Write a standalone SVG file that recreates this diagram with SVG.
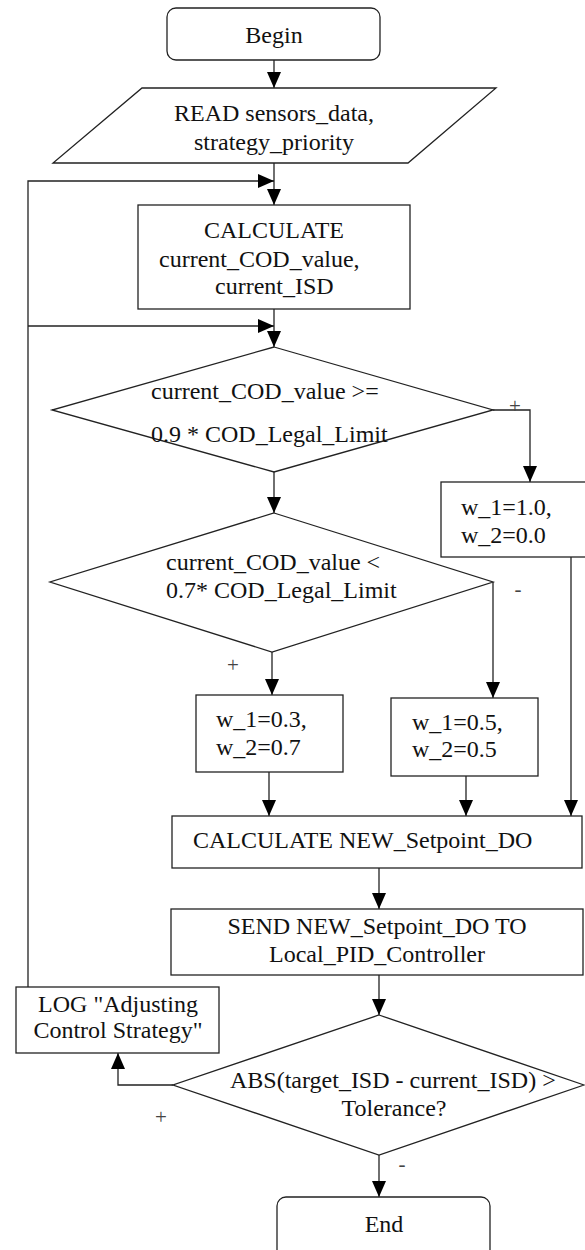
<svg xmlns="http://www.w3.org/2000/svg" width="585" height="1250" viewBox="0 0 585 1250">
<style>
.n{fill:#fff;stroke:#222;stroke-width:1.3}
.t{font-family:"Liberation Serif","Times New Roman",serif;font-size:24px;fill:#111}
.c{text-anchor:middle}
.l{font-family:"Liberation Serif","Times New Roman",serif;font-size:21px;fill:#444;text-anchor:middle}
.e{fill:none;stroke:#222;stroke-width:1.3}
</style>
<defs>
<marker id="ah" markerUnits="userSpaceOnUse" markerWidth="16" markerHeight="14" refX="16" refY="7" orient="auto"><path d="M0,0 L16,7 L0,14 z" fill="#000"/></marker>
</defs>
<g id="connectors">
<path class="e" d="M274,60 V88" marker-end="url(#ah)"/>
<path class="e" d="M274,163 V205" marker-end="url(#ah)"/>
<path class="e" d="M28,987 V181 H274" marker-end="url(#ah)"/>
<path class="e" d="M28,326 H274" marker-end="url(#ah)"/>
<path class="e" d="M274,309 V347" marker-end="url(#ah)"/>
<path class="e" d="M493,410 H530 V482" marker-end="url(#ah)"/>
<path class="e" d="M274,472 V513" marker-end="url(#ah)"/>
<path class="e" d="M272,652 V695" marker-end="url(#ah)"/>
<path class="e" d="M493,582 V698" marker-end="url(#ah)"/>
<path class="e" d="M269,772 V816" marker-end="url(#ah)"/>
<path class="e" d="M466,776 V816" marker-end="url(#ah)"/>
<path class="e" d="M571,557 V816" marker-end="url(#ah)"/>
<path class="e" d="M379,868 V909" marker-end="url(#ah)"/>
<path class="e" d="M379,975 V1015" marker-end="url(#ah)"/>
<path class="e" d="M173,1085 H118 V1053" marker-end="url(#ah)"/>
<path class="e" d="M379,1155 V1197" marker-end="url(#ah)"/>
<text class="l" x="515" y="413">+</text>
<text class="l" x="518" y="596">-</text>
<text class="l" x="233" y="672">+</text>
<text class="l" x="161" y="1124">+</text>
<text class="l" x="402" y="1171">-</text>
</g>
<g id="begin"><rect class="n" x="167" y="8" width="213" height="52" rx="9"/><text class="t c" x="274" y="43">Begin</text></g>
<g id="read"><polygon class="n" points="142,88 496,88 408,163 53,163"/><text class="t c" x="274" y="121">READ sensors_data,</text><text class="t c" x="274" y="150">strategy_priority</text></g>
<g id="calc1"><rect class="n" x="138" y="205" width="272" height="104"/><text class="t c" x="274" y="238">CALCULATE</text><text class="t" x="159" y="267">current_COD_value,</text><text class="t" x="215" y="294">current_ISD</text></g>
<g id="dec1"><polygon class="n" points="274,347 493,410 274,472 52,410"/><text class="t" x="151" y="399">current_COD_value &gt;=</text><text class="t" x="151" y="442">0.9 * COD_Legal_Limit</text></g>
<g id="w10"><rect class="n" x="441" y="482" width="150" height="75"/><text class="t" x="461" y="515">w_1=1.0,</text><text class="t" x="461" y="543">w_2=0.0</text></g>
<g id="dec2"><polygon class="n" points="274,513 493,582 272,652 50,582"/><text class="t" x="166" y="570">current_COD_value &lt;</text><text class="t" x="166" y="598">0.7* COD_Legal_Limit</text></g>
<g id="w03"><rect class="n" x="196" y="695" width="147" height="77"/><text class="t" x="216" y="727">w_1=0.3,</text><text class="t" x="216" y="755">w_2=0.7</text></g>
<g id="w05"><rect class="n" x="391" y="698" width="147" height="78"/><text class="t" x="412" y="730">w_1=0.5,</text><text class="t" x="412" y="757">w_2=0.5</text></g>
<g id="calc2"><rect class="n" x="172" y="816" width="410" height="52"/><text class="t" x="193" y="848">CALCULATE NEW_Setpoint_DO</text></g>
<g id="send"><rect class="n" x="171" y="909" width="412" height="66"/><text class="t c" x="377" y="934">SEND NEW_Setpoint_DO TO</text><text class="t c" x="377" y="962">Local_PID_Controller</text></g>
<g id="log"><rect class="n" x="16" y="987" width="203" height="66"/><text class="t c" x="118" y="1012">LOG "Adjusting</text><text class="t c" x="118" y="1038">Control Strategy"</text></g>
<g id="dec3"><polygon class="n" points="379,1015 584,1085 379,1155 173,1085"/><text class="t" x="230" y="1088">ABS(target_ISD - current_ISD) &gt;</text><text class="t c" x="394" y="1116">Tolerance?</text></g>
<g id="end"><rect class="n" x="277" y="1197" width="213" height="70" rx="9"/><text class="t c" x="384" y="1232">End</text></g>
</svg>
